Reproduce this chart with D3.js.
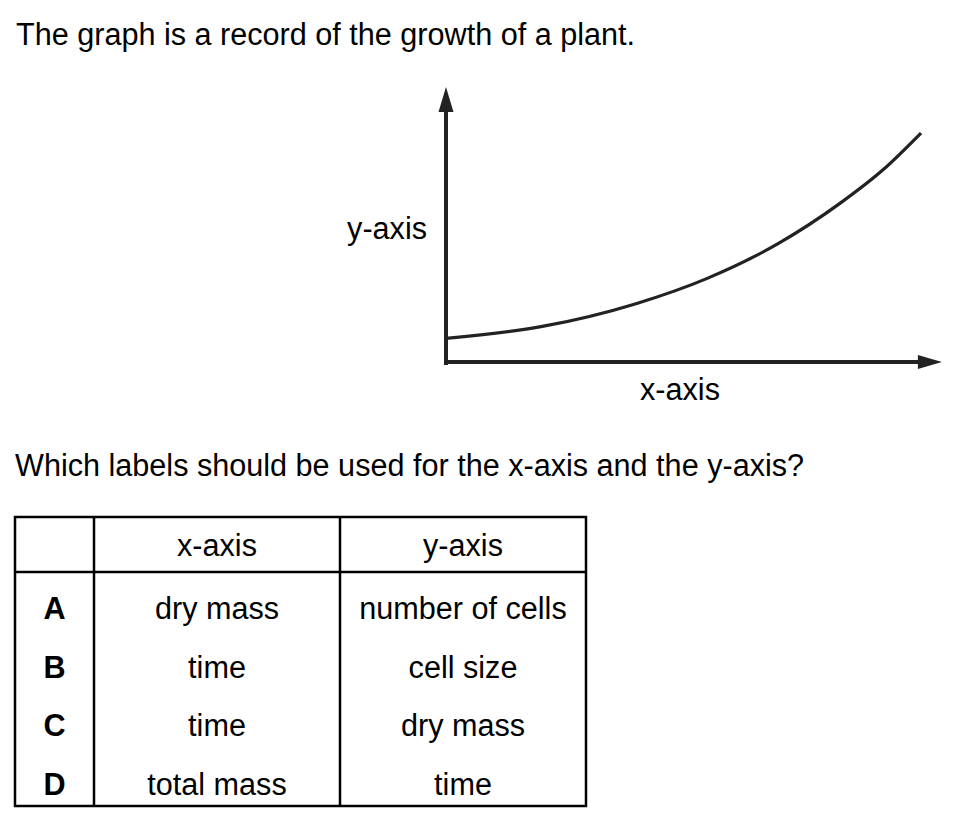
<!DOCTYPE html>
<html>
<head>
<meta charset="utf-8">
<script src="https://cdn.jsdelivr.net/npm/d3@7"></script>
<style>
  html, body { margin: 0; padding: 0; background: #fff; }
  svg { display: block; }
  text { font-family: "Liberation Sans", Arial, Helvetica, sans-serif; fill: #000; }
</style>
</head>
<body>
<svg id="chart" width="957" height="828"></svg>
<script>
// ---- data ----
const titleText = "The graph is a record of the growth of a plant.";
const questionText = "Which labels should be used for the x-axis and the y-axis?";
const xAxisLabel = "x-axis";
const yAxisLabel = "y-axis";
// growth curve (arbitrary units)
const curveX = [0, 2, 4, 5.5, 7, 8.3, 9.2, 10];
const curveY = [1.07, 1.58, 2.58, 3.68, 5.2, 6.95, 8.4, 10];
const xAxisMax = 10.44;
const yAxisMax = 12.0;
// answer table
const tableHeader = ["", "x-axis", "y-axis"];
const optionLetters = ["A", "B", "C", "D"];
const xAxisOptions = ["dry mass", "time", "time", "total mass"];
const yAxisOptions = ["number of cells", "cell size", "dry mass", "time"];

// ---- drawing ----
const svg = d3.select("#chart");
const FONT = 30.6;

svg.append("text").attr("x", 16).attr("y", 45).attr("font-size", FONT).text(titleText);
svg.append("text").attr("x", 15).attr("y", 476).attr("font-size", FONT).text(questionText);

// graph scales
const x = d3.scaleLinear().domain([0, 10]).range([446, 921]);
const y = d3.scaleLinear().domain([0, 10]).range([363, 133]);
const ink = "#222";

const g = svg.append("g");
// axes
g.append("line").attr("x1", x(0)).attr("x2", x(0)).attr("y1", y(0) + 2).attr("y2", y(yAxisMax) + 12)
  .attr("stroke", ink).attr("stroke-width", 4);
g.append("line").attr("x1", x(0) - 2).attr("x2", x(xAxisMax) - 12).attr("y1", y(0) - 1).attr("y2", y(0) - 1)
  .attr("stroke", ink).attr("stroke-width", 4);
// arrowheads
const yTipX = x(0), yTipY = y(yAxisMax);
g.append("path").attr("d", `M${yTipX},${yTipY} L${yTipX + 7.5},${yTipY + 25} L${yTipX - 7.5},${yTipY + 25} Z`).attr("fill", ink);
const xTipX = x(xAxisMax), xTipY = y(0) - 1;
g.append("path").attr("d", `M${xTipX},${xTipY} L${xTipX - 24},${xTipY - 7} L${xTipX - 24},${xTipY + 7} Z`).attr("fill", ink);

// curve
const pts = curveX.map((d, i) => [d, curveY[i]]);
const line = d3.line().x(d => x(d[0])).y(d => y(d[1])).curve(d3.curveMonotoneX);
g.append("path").attr("d", line(pts)).attr("fill", "none").attr("stroke", ink).attr("stroke-width", 3.2);

// axis labels
g.append("text").attr("x", 427).attr("y", 239).attr("text-anchor", "end").attr("font-size", FONT).text(yAxisLabel);
g.append("text").attr("x", 680).attr("y", 400).attr("text-anchor", "middle").attr("font-size", FONT).text(xAxisLabel);

// table
const colEdges = [15, 94, 340, 586];
const tableTop = 517, headerBottom = 572, tableBottom = 806;
const rowScale = d3.scaleBand().domain(optionLetters).range([headerBottom, tableBottom]);
const t = svg.append("g");
const tStroke = 2.5;
t.append("rect").attr("x", colEdges[0]).attr("y", tableTop)
  .attr("width", colEdges[3] - colEdges[0]).attr("height", tableBottom - tableTop)
  .attr("fill", "none").attr("stroke", "#000").attr("stroke-width", tStroke);
[colEdges[1], colEdges[2]].forEach(cx => {
  t.append("line").attr("x1", cx).attr("x2", cx).attr("y1", tableTop).attr("y2", tableBottom)
    .attr("stroke", "#000").attr("stroke-width", tStroke);
});
t.append("line").attr("x1", colEdges[0]).attr("x2", colEdges[3]).attr("y1", headerBottom).attr("y2", headerBottom)
  .attr("stroke", "#000").attr("stroke-width", tStroke);

const colCenter = i => (colEdges[i] + colEdges[i + 1]) / 2;
tableHeader.forEach((h, i) => {
  if (!h) return;
  t.append("text").attr("x", colCenter(i)).attr("y", 556).attr("text-anchor", "middle").attr("font-size", FONT).text(h);
});
optionLetters.forEach((L, i) => {
  const by = rowScale(L) + rowScale.bandwidth() / 2 + 18;
  t.append("text").attr("x", colCenter(0)).attr("y", by).attr("text-anchor", "middle")
    .attr("font-size", FONT).attr("font-weight", "bold").text(L);
  t.append("text").attr("x", colCenter(1)).attr("y", by).attr("text-anchor", "middle")
    .attr("font-size", FONT).text(xAxisOptions[i]);
  t.append("text").attr("x", colCenter(2)).attr("y", by).attr("text-anchor", "middle")
    .attr("font-size", FONT).text(yAxisOptions[i]);
});
</script>
</body>
</html>
